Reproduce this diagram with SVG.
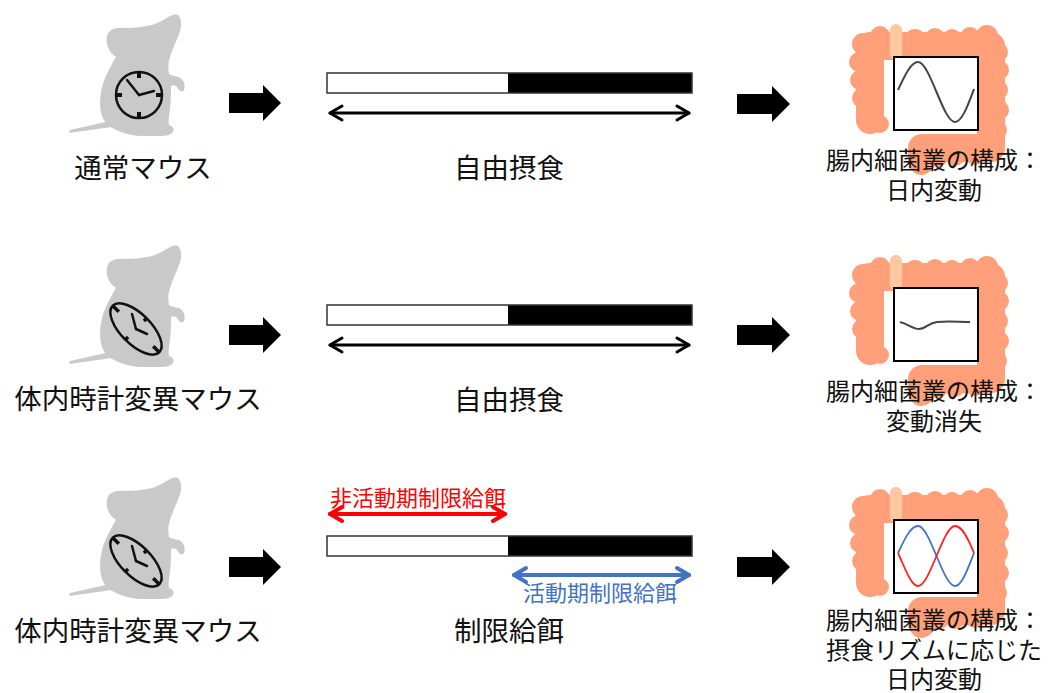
<svg xmlns="http://www.w3.org/2000/svg" xmlns:xlink="http://www.w3.org/1999/xlink" width="1049" height="693" viewBox="0 0 1049 693">
  <style>
    .lbl { font-family: "Liberation Sans", "Noto Sans CJK JP", sans-serif; font-size: 27.5px; fill: #111; text-anchor: middle; }
    .gut-lbl { font-family: "Liberation Sans", "Noto Sans CJK JP", sans-serif; font-size: 24px; fill: #111; text-anchor: middle; }
    .mouse { fill: #c9c9c9; }
    .clock { fill: none; stroke: #111; stroke-width: 2.5; }
    .tick { stroke: #111; stroke-width: 4; }
    .hand { stroke: #111; stroke-width: 2.5; stroke-linecap: round; }
    .block { fill: #000; }
    .dbl { fill: none; stroke: #000; stroke-width: 3; stroke-linecap: round; stroke-linejoin: round; }
    .bar-frame { fill: none; stroke: #333; stroke-width: 1.5; }
    .gut { fill: #ffa07a; }
    .gut-stroke { fill: none; stroke: #ffa07a; stroke-width: 28; stroke-linecap: round; stroke-linejoin: round; }
    .chart { fill: #fff; stroke: #000; stroke-width: 2; }
  </style>
  <defs>
    <!-- seated mouse silhouette -->
    <g id="mouse-shape">
      <path class="mouse" d="M178,15 C182,19 182,27 179,34 C176,42 172,50 170,57 C168,63 168,68 169,74 C172,76 176,76 179,77 C183,79 186,84 184,90 C182,93 179,91 177,87 C175,85 173,85 171,86 C171,93 171,101 170,109 C169,116 168,121 169,125 C172,126 175,128 173,132 C171,135 166,136 160,136 L143,136 C134,136 127,134 121,132 C112,129 105,124 102,116 C99,107 100,96 102,87 C104,79 108,71 112,64 C113,61 115,59 116,57 C112,54 109,51 108,47 C106,42 106,36 109,32 C112,28 118,27 126,28 C134,28 140,27 147,26 C154,25 160,22 165,19 C170,16 175,13 178,15 Z"/>
      <path class="mouse" d="M110,121 L70,130 L69,133 L112,127 Z"/>
    </g>
    <!-- normal clock -->
    <g id="clock-normal">
      <circle class="clock" cx="139" cy="95" r="23"/>
      <line class="tick" x1="139" y1="72" x2="139" y2="78"/>
      <line class="tick" x1="139" y1="112" x2="139" y2="118"/>
      <line class="tick" x1="116" y1="95" x2="122" y2="95"/>
      <line class="tick" x1="156" y1="95" x2="162" y2="95"/>
      <line class="hand" x1="139" y1="95" x2="127" y2="80"/>
      <line class="hand" x1="139" y1="95" x2="154" y2="91" stroke-width="2"/>
    </g>
    <!-- distorted clock -->
    <g id="clock-warped">
      <g transform="translate(136,98) rotate(45) scale(1.43,0.66)">
        <circle cx="0" cy="0" r="23" fill="none" stroke="#111" stroke-width="2.5" vector-effect="non-scaling-stroke"/>
        <line x1="0" y1="-23" x2="0" y2="-17" stroke="#111" stroke-width="3.5" vector-effect="non-scaling-stroke"/>
        <line x1="0" y1="23" x2="0" y2="17" stroke="#111" stroke-width="3.5" vector-effect="non-scaling-stroke"/>
        <line x1="-23" y1="0" x2="-17" y2="0" stroke="#111" stroke-width="3.5" vector-effect="non-scaling-stroke"/>
        <line x1="23" y1="0" x2="17" y2="0" stroke="#111" stroke-width="3.5" vector-effect="non-scaling-stroke"/>
      </g>
      <line class="hand" x1="136" y1="98" x2="132" y2="83"/>
      <line class="hand" x1="136" y1="98" x2="147" y2="103" stroke-width="2"/>
    </g>
    <!-- colon outline -->
    <g id="colon">
      <path class="gut-stroke" d="M870,120 L870,46 L991,46 L991,148 L922,148 L922,160"/>
      <circle class="gut" cx="863" cy="44" r="11"/>
      <circle class="gut" cx="859" cy="62" r="10"/>
      <circle class="gut" cx="860" cy="80" r="10"/>
      <circle class="gut" cx="862" cy="98" r="10"/>
      <circle class="gut" cx="866" cy="116" r="10"/>
      <circle class="gut" cx="880" cy="124" r="9"/>
      <circle class="gut" cx="880" cy="36" r="10"/>
      <circle class="gut" cx="915" cy="40" r="11"/>
      <circle class="gut" cx="935" cy="38" r="10"/>
      <circle class="gut" cx="952" cy="39" r="10"/>
      <circle class="gut" cx="970" cy="37" r="10"/>
      <circle class="gut" cx="987" cy="36" r="11"/>
      <circle class="gut" cx="998" cy="52" r="10"/>
      <circle class="gut" cx="999" cy="70" r="10"/>
      <circle class="gut" cx="998" cy="90" r="10"/>
      <circle class="gut" cx="999" cy="110" r="10"/>
      <circle class="gut" cx="997" cy="130" r="10"/>
      <circle class="gut" cx="994" cy="150" r="10"/>
      <circle class="gut" cx="975" cy="155" r="10"/>
      <circle class="gut" cx="955" cy="156" r="10"/>
      <circle class="gut" cx="938" cy="157" r="10"/>
      <circle class="gut" cx="921" cy="164" r="11"/>
      <rect x="890" y="24" width="12" height="36" rx="6" fill="#ffc8a0"/>
      <rect class="chart" x="894" y="57" width="84" height="73"/>
    </g>
    <!-- shared pieces of each row -->
    <polygon id="block-left" class="block" points="229,93 263,93 263,85 281,103 263,121 263,113 229,113"/>
    <polygon id="block-right" class="block" points="737,94 772,94 772,86 790,104 772,122 772,114 737,114"/>
    <g id="bar">
      <rect x="327" y="73" width="181" height="20" fill="#fff"/>
      <rect x="508" y="73" width="184" height="20" fill="#000"/>
      <rect class="bar-frame" x="327" y="73" width="365" height="20"/>
    </g>
    <g id="dbl-arrow">
      <line class="dbl" x1="330" y1="113" x2="689" y2="113"/>
      <polyline class="dbl" points="342,106 330,113 342,120"/>
      <polyline class="dbl" points="677,106 689,113 677,120"/>
    </g>
  </defs>

  <!-- row 1: normal mouse -->
  <g id="mouse-normal">
    <use xlink:href="#mouse-shape"/>
    <use xlink:href="#clock-normal"/>
    <text class="lbl" x="143" y="178">通常マウス</text>
  </g>
  <g id="feeding-free-1">
    <use xlink:href="#bar"/>
    <text class="lbl" x="509" y="178">自由摂食</text>
  </g>
  <g id="gut-1">
    <use xlink:href="#colon"/>
    <path d="M898,90 C905,75 911,62 918,62 C930,62 943,122 955,122 C962,122 968,105 974,89" fill="none" stroke="#444" stroke-width="2"/>
    <text class="gut-lbl" x="934" y="169">腸内細菌叢の構成：</text>
    <text class="gut-lbl" x="934" y="199">日内変動</text>
  </g>

  <!-- row 2: clock mutant, free feeding -->
  <g id="mouse-mutant-1" transform="translate(0,231)">
    <use xlink:href="#mouse-shape"/>
    <use xlink:href="#clock-warped"/>
    <text class="lbl" x="138" y="178">体内時計変異マウス</text>
  </g>
  <g id="feeding-free-2" transform="translate(0,232)">
    <use xlink:href="#bar"/>
    <text class="lbl" x="509" y="178">自由摂食</text>
  </g>
  <g id="gut-2" transform="translate(0,231)">
    <use xlink:href="#colon"/>
    <path d="M900,91 C908,93 913,98 919,98 C926,98 928,92 937,91 C948,90 960,91 970,91" fill="none" stroke="#444" stroke-width="2"/>
    <text class="gut-lbl" x="934" y="169">腸内細菌叢の構成：</text>
    <text class="gut-lbl" x="934" y="199">変動消失</text>
  </g>

  <!-- row 3: clock mutant, time-restricted feeding -->
  <g id="mouse-mutant-2" transform="translate(0,463)">
    <use xlink:href="#mouse-shape"/>
    <use xlink:href="#clock-warped"/>
    <text class="lbl" x="138" y="178">体内時計変異マウス</text>
  </g>
  <g id="feeding-restricted" transform="translate(0,463)">
    <use xlink:href="#bar"/>
    <text class="lbl" x="509" y="178">制限給餌</text>
  </g>
  <g id="label-inactive">
    <text x="418" y="506" font-family="'Liberation Sans', 'Noto Sans CJK JP', sans-serif" font-size="22" fill="#ff0000" text-anchor="middle">非活動期制限給餌</text>
  </g>
  <g id="label-active">
    <text x="600" y="601" font-family="'Liberation Sans', 'Noto Sans CJK JP', sans-serif" font-size="22" fill="#4472c4" text-anchor="middle">活動期制限給餌</text>
  </g>
  <g id="gut-3" transform="translate(0,463)">
    <use xlink:href="#colon"/>
    <path d="M898,90 C905,75 911,63 918,63 C930,63 943,123 955,123 C962,123 968,105 974,90" fill="none" stroke="#4472c4" stroke-width="1.8"/>
    <path d="M898,90 C905,105 911,123 918,123 C930,123 943,63 955,63 C962,63 968,75 974,90" fill="none" stroke="#ff2020" stroke-width="1.8"/>
    <text class="gut-lbl" x="934" y="166">腸内細菌叢の構成：</text>
    <text class="gut-lbl" x="934" y="196">摂食リズムに応じた</text>
    <text class="gut-lbl" x="934" y="225">日内変動</text>
  </g>

  <!-- connectors -->
  <g id="connectors">
    <use xlink:href="#block-left"/>
    <use xlink:href="#block-right"/>
    <use xlink:href="#dbl-arrow"/>
    <use xlink:href="#block-left" transform="translate(0,232)"/>
    <use xlink:href="#block-right" transform="translate(0,231)"/>
    <use xlink:href="#dbl-arrow" transform="translate(0,232)"/>
    <use xlink:href="#block-left" transform="translate(0,464)"/>
    <use xlink:href="#block-right" transform="translate(0,463)"/>
    <g fill="none" stroke="#ff0000" stroke-width="4" stroke-linecap="round" stroke-linejoin="round">
      <line x1="330" y1="514" x2="505" y2="514"/>
      <polyline points="342,507 330,514 342,521"/>
      <polyline points="493,507 505,514 493,521"/>
    </g>
    <g fill="none" stroke="#4472c4" stroke-width="4" stroke-linecap="round" stroke-linejoin="round">
      <line x1="514" y1="575" x2="689" y2="575"/>
      <polyline points="526,568 514,575 526,582"/>
      <polyline points="677,568 689,575 677,582"/>
    </g>
  </g>
</svg>
